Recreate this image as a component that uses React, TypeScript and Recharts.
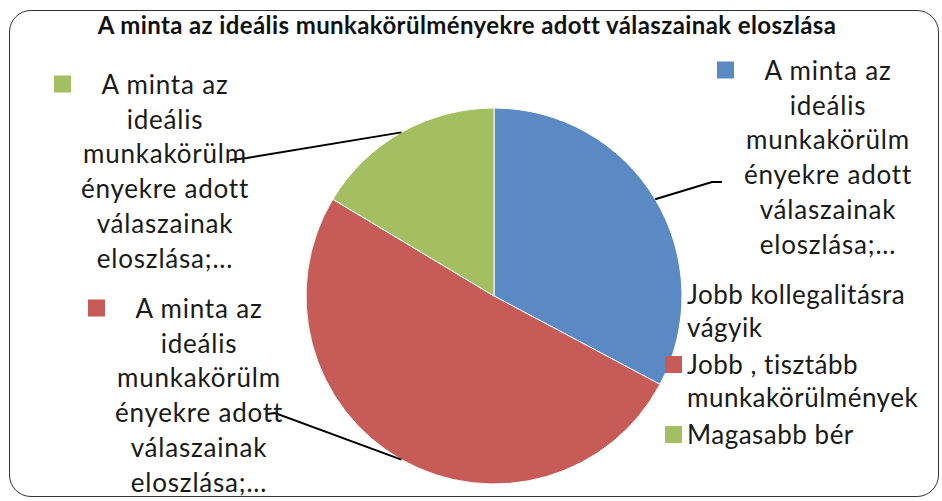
import { PieChart, Pie, Cell, Legend } from "recharts";

const title = "A minta az ideális munkakörülményekre adott válaszainak eloszlása";
const categories = ["Jobb kollegalitásra vágyik", "Jobb , tisztább munkakörülmények", "Magasabb bér"];
const values = [20, 31, 10];
const colors = ["#5A89C3", "#C75B58", "#A3BF61"];
const legendLines = [["Jobb kollegalitásra", "vágyik"], ["Jobb , tisztább", "munkakörülmények"], ["Magasabb bér"]];
const labelLines = ["A minta az", "ideális", "munkakörülm", "ényekre adott", "válaszainak", "eloszlása;..."];

// label placement relative to the pie centre: text centre, first line y, elbow, end of leader
const labelLayout = [
  { tx: 334, ty: -226, ex: 218, ey: -114, lx: 228, ly: -114 },
  { tx: -295, ty: 12, ex: -219, ey: 117, lx: -227, ly: 118 },
  { tx: -329, ty: -212, ex: -247, ey: -138, lx: -264, ly: -136 },
];

const data = categories.map((name, i) => ({ name, value: values[i] }));

const FONT = "Lato, 'Open Sans', sans-serif";
const RAD = Math.PI / 180;

const renderLabel = (props: any) => {
  const { cx, cy, midAngle, outerRadius, index } = props;
  const l = labelLayout[index];
  const sx = cx + outerRadius * Math.cos(-midAngle * RAD);
  const sy = cy + outerRadius * Math.sin(-midAngle * RAD);
  const tx = cx + l.tx;
  const ty = cy + l.ty;
  return (
    <g>
      <polyline
        points={`${sx},${sy} ${cx + l.ex},${cy + l.ey} ${cx + l.lx},${cy + l.ly}`}
        fill="none"
        stroke="#000"
        strokeWidth={2}
      />
      <rect x={tx - 111} y={ty - 8.5} width={17} height={17} fill={colors[index]} />
      <text
        x={tx}
        y={ty}
        textAnchor="middle"
        fontFamily={FONT}
        fontSize={26}
        letterSpacing={0.8}
        fill="#1a1a1a"
      >
        {labelLines.map((line, i) => (
          <tspan key={i} x={tx} y={ty + i * 34.7} dominantBaseline="central">
            {line}
          </tspan>
        ))}
      </text>
    </g>
  );
};

const renderLegend = () => (
  <div style={{ fontFamily: FONT, fontSize: 26, letterSpacing: 0.5, color: "#1a1a1a", lineHeight: "33px" }}>
    {legendLines.map((lines, i) => (
      <div key={i} style={{ display: "flex", alignItems: "flex-start", marginBottom: 4 }}>
        <span
          style={{
            width: 17,
            height: 17,
            marginTop: 8,
            marginRight: 5,
            flex: "none",
            background: i === 0 ? "transparent" : colors[i],
          }}
        />
        <div>
          {lines.map((t, j) => (
            <div key={j}>{t}</div>
          ))}
        </div>
      </div>
    ))}
  </div>
);

export default function App() {
  return (
    <div style={{ position: "absolute", left: 0, top: 0, width: 942, height: 501, background: "#fff" }}>
      <div
        style={{
          position: "absolute",
          left: 9,
          top: 10,
          width: 930,
          height: 487,
          border: "1.5px solid #333",
          borderRadius: 22,
          boxSizing: "border-box",
        }}
      />
      <div
        style={{
          position: "absolute",
          left: 0,
          top: 10,
          width: 934,
          textAlign: "center",
          fontFamily: FONT,
          fontWeight: 700,
          fontSize: 24,
          letterSpacing: 0.4,
          color: "#111",
        }}
      >
        {title}
      </div>
      <PieChart width={942} height={501} margin={{ top: 0, right: 0, bottom: 0, left: 0 }}>
        <Pie
          data={data}
          dataKey="value"
          nameKey="name"
          cx={494}
          cy={296}
          outerRadius={188}
          startAngle={90}
          endAngle={-270}
          stroke="#fff"
          strokeWidth={1}
          label={renderLabel}
          labelLine={false}
          isAnimationActive={false}
        >
          {data.map((d, i) => (
            <Cell key={d.name} fill={colors[i]} />
          ))}
        </Pie>
        <Legend
          layout="vertical"
          align="right"
          verticalAlign="middle"
          content={renderLegend}
          wrapperStyle={{ position: "absolute", left: 665, top: 278, width: 275 }}
        />
      </PieChart>
    </div>
  );
}
